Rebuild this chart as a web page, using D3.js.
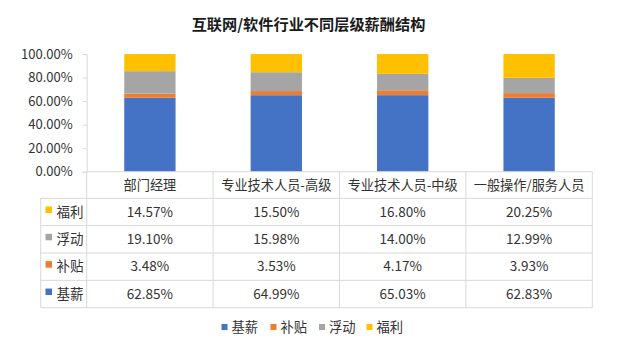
<!DOCTYPE html>
<html><head><meta charset="utf-8">
<script src="https://cdn.jsdelivr.net/npm/d3@7"></script>
<style>
html,body{margin:0;padding:0;background:#fff;}
svg{display:block;font-family:"Noto Sans CJK SC","Noto Sans",sans-serif;}
</style></head>
<body><svg id="c" width="640" height="360"></svg>
<script>
const title = "互联网/软件行业不同层级薪酬结构";
const categories = ["部门经理","专业技术人员-高级","专业技术人员-中级","一般操作/服务人员"];
const seriesNames = ["基薪","补贴","浮动","福利"];
const seriesColors = ["#4472C4","#ED7D31","#A5A5A5","#FFC000"];
const base = [62.85,64.99,65.03,62.83];
const allowance = [3.48,3.53,4.17,3.93];
const floating = [19.10,15.98,14.00,12.99];
const welfare = [14.57,15.50,16.80,20.25];
const yTicks = [0,20,40,60,80,100];

const seriesValues = [base, allowance, floating, welfare];
const rows = categories.map((c,i)=>{const o={cat:c}; seriesNames.forEach((s,j)=>o[s]=seriesValues[j][i]); return o;});

const svg = d3.select("#c");
const pLeft = 86.7, pRight = 592.3, pTop = 54, pBottom = 171.7;
const x = d3.scaleBand().domain(categories).range([pLeft,pRight]).paddingInner(0).paddingOuter(0);
const y = d3.scaleLinear().domain([0,100]).range([pBottom,pTop]);
const gridC = "#D9D9D9", textC = "#333333";

// title
svg.append("text").attr("x",308.5).attr("y",25).attr("dy","0.36em").attr("text-anchor","middle")
  .attr("font-size",15.2).attr("font-weight","bold").attr("fill","#1a1a1a").text(title);

// y axis
const ya = svg.append("g").attr("transform",`translate(${pLeft},0)`)
  .call(d3.axisLeft(y).tickValues(yTicks).tickSize(4).tickPadding(10).tickFormat(d=>d.toFixed(2)+"%"));
ya.selectAll("path,line").attr("stroke",gridC);
ya.selectAll("text").attr("font-size",13).attr("fill",textC).attr("font-family",'"Noto Sans CJK SC",sans-serif');

// stacked bars
const stack = d3.stack().keys(seriesNames)(rows);
const bw = x.bandwidth()*0.406;
svg.append("g").selectAll("g").data(stack).join("g")
  .attr("fill",(d,i)=>seriesColors[i])
  .selectAll("rect").data(d=>d).join("rect")
  .attr("x",d=>x(d.data.cat)+x.bandwidth()/2-bw/2)
  .attr("width",bw)
  .attr("y",d=>y(d[1]))
  .attr("height",d=>y(d[0])-y(d[1]));

// data table
const headTop = pBottom, headBot = 198.3, tableBot = 307.7, legLeft = 40.7;
const rowOrder = [3,2,1,0];
const ry = d3.scaleBand().domain(rowOrder).range([headBot,tableBot]);
const tg = svg.append("g");
categories.forEach(c=>{
  tg.append("line").attr("x1",x(c)).attr("x2",x(c)).attr("y1",headTop).attr("y2",tableBot).attr("stroke",gridC);
});
tg.append("line").attr("x1",pRight).attr("x2",pRight).attr("y1",headTop).attr("y2",tableBot).attr("stroke",gridC);
tg.append("line").attr("x1",pLeft).attr("x2",pRight).attr("y1",headTop).attr("y2",headTop).attr("stroke",gridC);
tg.append("line").attr("x1",legLeft).attr("x2",legLeft).attr("y1",headBot).attr("y2",tableBot).attr("stroke",gridC);
rowOrder.forEach(r=>{
  tg.append("line").attr("x1",legLeft).attr("x2",pRight).attr("y1",ry(r)).attr("y2",ry(r)).attr("stroke",gridC);
});
tg.append("line").attr("x1",legLeft).attr("x2",pRight).attr("y1",tableBot).attr("y2",tableBot).attr("stroke",gridC);

// header text
tg.selectAll("text.h").data(categories).join("text").attr("class","h")
  .attr("x",d=>x(d)+x.bandwidth()/2).attr("y",(headTop+headBot)/2).attr("dy","0.35em")
  .attr("text-anchor","middle").attr("font-size",13.2).attr("fill",textC).text(d=>d);

// row labels with markers
rowOrder.forEach(r=>{
  const cy = ry(r)+ry.bandwidth()/2;
  tg.append("rect").attr("x",45.5).attr("y",cy-5.5).attr("width",6.5).attr("height",6.5).attr("fill",seriesColors[r]);
  tg.append("text").attr("x",56.5).attr("y",cy).attr("dy","0.35em").attr("font-size",13.5).attr("fill",textC).text(seriesNames[r]);
  categories.forEach((c,i)=>{
    tg.append("text").attr("x",x(c)+x.bandwidth()/2).attr("y",cy).attr("dy","0.35em")
      .attr("text-anchor","middle").attr("font-size",13.5).attr("fill",textC)
      .text(seriesValues[r][i].toFixed(2)+"%");
  });
});

// legend
const legX = [221.5,270.5,319,366.5];
const lg = svg.append("g");
seriesNames.forEach((s,i)=>{
  lg.append("rect").attr("x",legX[i]).attr("y",324).attr("width",6).attr("height",6).attr("fill",seriesColors[i]);
  lg.append("text").attr("x",legX[i]+10).attr("y",327.5).attr("dy","0.35em").attr("font-size",13.3).attr("fill",textC).text(s);
});
</script></body></html>
